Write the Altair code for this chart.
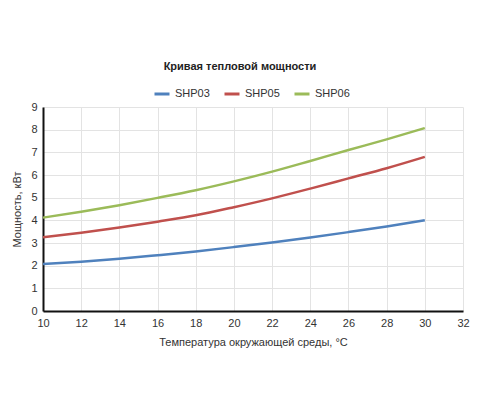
import altair as alt
import pandas as pd

temps = [10, 12, 14, 16, 18, 20, 22, 24, 26, 28, 30]
shp03 = [2.07, 2.17, 2.3, 2.46, 2.63, 2.82, 3.02, 3.24, 3.48, 3.73, 4.0]
shp05 = [3.25, 3.45, 3.68, 3.94, 4.22, 4.58, 4.97, 5.4, 5.85, 6.3, 6.8]
shp06 = [4.12, 4.38, 4.67, 4.99, 5.33, 5.72, 6.15, 6.62, 7.1, 7.57, 8.07]

series = ["SHP03", "SHP05", "SHP06"]
colors = ["#4F81BD", "#C0504D", "#9BBB59"]

df = pd.DataFrame({
    "t": temps * 3,
    "p": shp03 + shp05 + shp06,
    "s": [series[0]] * len(temps) + [series[1]] * len(temps) + [series[2]] * len(temps),
})

font = "Liberation Sans"

chart = (
    alt.Chart(df)
    .mark_line(strokeWidth=2.5, interpolate="monotone")
    .encode(
        x=alt.X("t:Q", title="Температура окружающей среды, °С",
                scale=alt.Scale(domain=[10, 32], nice=False),
                axis=alt.Axis(values=list(range(10, 33, 2)), labelFlush=False)),
        y=alt.Y("p:Q", title="Мощность, кВт",
                scale=alt.Scale(domain=[0, 9], nice=False),
                axis=alt.Axis(values=list(range(0, 10)), labelFlush=False)),
        color=alt.Color("s:N", title=None,
                        scale=alt.Scale(domain=series, range=colors),
                        legend=alt.Legend(orient="none", direction="horizontal",
                                          legendX=110, legendY=-22,
                                          symbolType="stroke", symbolSize=225,
                                          symbolStrokeWidth=3, columnPadding=8,
                                          labelFontSize=11, labelFont=font,
                                          labelColor="#333")),
    )
    .properties(
        width=420, height=204,
        title=alt.TitleParams("Кривая тепловой мощности", fontSize=11, font=font,
                              fontWeight="bold", color="#222", offset=13, dx=-13),
        autosize=alt.AutoSizeParams(type="none"),
        padding={"left": 35, "top": 99, "right": 29, "bottom": 81},
    )
    .configure_view(stroke=None)
    .configure_axis(
        labelFont=font, titleFont=font, labelFontSize=11, titleFontSize=11,
        labelColor="#333", titleColor="#333", titleFontWeight="normal",
        gridColor="#e3e3e3", domainColor="#111", domainWidth=2, ticks=False,
        labelPadding=6,
    )
    .configure_axisX(titlePadding=8)
    .configure_axisY(titlePadding=8)
)

chart.save("out.html", embed_options={"renderer": "svg", "actions": False})
